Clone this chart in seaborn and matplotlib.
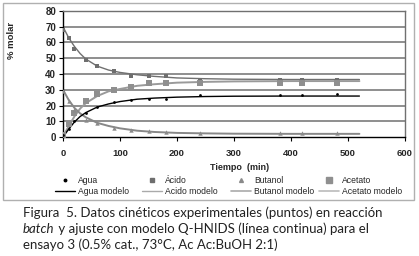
import numpy as np
import pandas as pd
import matplotlib
matplotlib.use("Agg")
import matplotlib.pyplot as plt
import seaborn as sns
from matplotlib.lines import Line2D
from matplotlib.patches import Rectangle

# experimental data
t_exp = [0, 10, 20, 40, 60, 90, 120, 150, 180, 240, 380, 420, 480]
agua = [1, 5, 10, 15, 19, 22, 23.5, 24, 24, 26.5, 26.5, 26.5, 27.5]
acido = [68, 63, 56, 49, 45, 42, 39, 38.5, 38.5, 36.5, 36, 36, 36]
butanol = [29, 23, 17, 11, 9, 6, 4.5, 4, 3, 2.5, 2.5, 2.5, 2.5]
acetato = [1, 8, 15, 23, 27, 30, 32, 34, 34, 34, 34.5, 34.5, 34.5]

# model curves
t_mod = [0, 10, 20, 30, 40, 60, 80, 100, 130, 160, 200, 250, 300, 400, 520]
agua_mod = [0, 5, 9.5, 13, 15.5, 19, 21, 22.5, 24, 24.7, 25.3, 25.7, 25.9, 26, 26]
acido_mod = [70, 63, 57.5, 53, 49.5, 45, 42.5, 41, 39.5, 38.5, 37.5, 37, 36.7, 36.5, 36.5]
butanol_mod = [30, 23.5, 18.5, 15, 12.5, 9, 7, 5.5, 4, 3.2, 2.6, 2.3, 2.1, 2, 2]
acetato_mod = [0, 7, 13, 18, 21.5, 26, 29, 30.5, 32.5, 33.5, 34.5, 35, 35.3, 35.5, 35.5]

xticks = [0, 100, 200, 300, 400, 500, 600]
yticks = [0, 10, 20, 30, 40, 50, 60, 70, 80]

sns.set_style("ticks")
plt.rcParams['font.family'] = ['Liberation Sans', 'DejaVu Sans']

W, H = 419, 256
fig = plt.figure(figsize=(W/100, H/100), dpi=100)
ax = fig.add_axes([63/W, 1-137/H, (405-63)/W, (137-11)/H])

df_mod = pd.DataFrame({'t': t_mod, 'agua': agua_mod, 'acido': acido_mod,
                       'butanol': butanol_mod, 'acetato': acetato_mod})
df_exp = pd.DataFrame({'t': t_exp, 'agua': agua, 'acido': acido,
                       'butanol': butanol, 'acetato': acetato})

ax.set_xlim(0, 600)
ax.set_ylim(0, 80)
ax.set_xticks(xticks)
ax.set_yticks(yticks)
# horizontal grid lines at the y ticks
ax.hlines(yticks[1:-1], xmin=0, xmax=600, colors='#7c7c7c', linewidths=1.2, zorder=1)

gray_line = '#9a9a9a'
sns.lineplot(data=df_mod, x='t', y='acido', ax=ax, color='#707070', linewidth=1.0)
sns.lineplot(data=df_mod, x='t', y='acetato', ax=ax, color=gray_line, linewidth=1.4)
sns.lineplot(data=df_mod, x='t', y='butanol', ax=ax, color='#888888', linewidth=1.4)
sns.lineplot(data=df_mod, x='t', y='agua', ax=ax, color='black', linewidth=1.0)

sns.scatterplot(data=df_exp, x='t', y='acido', ax=ax, marker='s', color='#6e6e6e', s=12, linewidth=0, zorder=5)
sns.scatterplot(data=df_exp, x='t', y='acetato', ax=ax, marker='s', color='#8f8f8f', s=22, linewidth=0, zorder=5)
sns.scatterplot(data=df_exp, x='t', y='butanol', ax=ax, marker='^', color='#8a8a8a', s=10, linewidth=0, zorder=5)
sns.scatterplot(data=df_exp, x='t', y='agua', ax=ax, marker='o', color='black', s=4, linewidth=0, zorder=6)

ax.set_xlim(0, 600)
ax.set_ylim(0, 80)

ax.set_xticklabels([str(v) for v in xticks], fontsize=6.8, fontweight='bold')
ax.set_yticklabels([str(v) for v in yticks], fontsize=7, fontweight='bold')
ax.tick_params(axis='both', length=3, width=0.8, color='black', direction='out')
ax.yaxis.set_tick_params(pad=2)
ax.xaxis.set_tick_params(pad=6)
for s in ['left', 'bottom']:
    ax.spines[s].set_color('black')
    ax.spines[s].set_linewidth(1.0)
for s in ['top', 'right']:
    ax.spines[s].set_visible(True)
    ax.spines[s].set_color('#707070')
    ax.spines[s].set_linewidth(1.0)
ax.set_xlabel('')
ax.set_ylabel('')

# frame around chart
frame = Rectangle((2.5/W, 1-200/H), 411/W, 197/H, transform=fig.transFigure,
                  facecolor='none', edgecolor='#b0b0b0', linewidth=1.0, zorder=-5)
fig.add_artist(frame)

fig.text(11/W, 1-40/H, '% molar', rotation=90, ha='center', va='center',
         fontsize=6.8, fontweight='bold')
fig.text(240/W, 1-167/H, 'Tiempo  (min)', ha='center', va='center',
         fontsize=6.5, fontweight='bold')

legend_cols = [
    (['Agua', 'Agua modelo'],
     [Line2D([], [], marker='o', color='black', linestyle='none', markersize=1.8),
      Line2D([], [], color='black', linewidth=1.0)], 55),
    (['Ácido', 'Acido modelo'],
     [Line2D([], [], marker='s', color='#6e6e6e', linestyle='none', markersize=2.8),
      Line2D([], [], color='#aaaaaa', linewidth=1.0)], 142),
    (['Butanol', 'Butanol modelo'],
     [Line2D([], [], marker='^', color='#8a8a8a', linestyle='none', markersize=2.8),
      Line2D([], [], color='#aaaaaa', linewidth=1.2)], 231),
    (['Acetato', 'Acetato modelo'],
     [Line2D([], [], marker='s', color='#8f8f8f', linestyle='none', markersize=3.8),
      Line2D([], [], color='#bbbbbb', linewidth=1.2)], 319),
]
for labs, hnds, x0 in legend_cols:
    leg = fig.legend(hnds, labs, loc='center left', bbox_to_anchor=(x0/W, 1-186/H),
                     frameon=False, fontsize=6.2, handlelength=2.3, handletextpad=0.35,
                     labelspacing=0.16, borderpad=0, borderaxespad=0)

cap_kw = dict(ha='left', va='baseline', fontsize=9.55, family=['Lato', 'DejaVu Sans'],
              color='#222222')
fig.text(23/W, 1-217/H, "Figura  5. Datos cinéticos experimentales (puntos) en reacción", **cap_kw)
t2 = fig.text(23/W, 1-233/H, "batch", style='italic', **cap_kw)
fig.canvas.draw()
bb = t2.get_window_extent()
fig.text(bb.x1/W, 1-233/H, " y ajuste con modelo Q-HNIDS (línea continua) para el", **cap_kw)
fig.text(23/W, 1-249/H, "ensayo 3 (0.5% cat., 73°C, Ac Ac:BuOH 2:1)", **cap_kw)

fig.savefig('out.png', dpi=100)
